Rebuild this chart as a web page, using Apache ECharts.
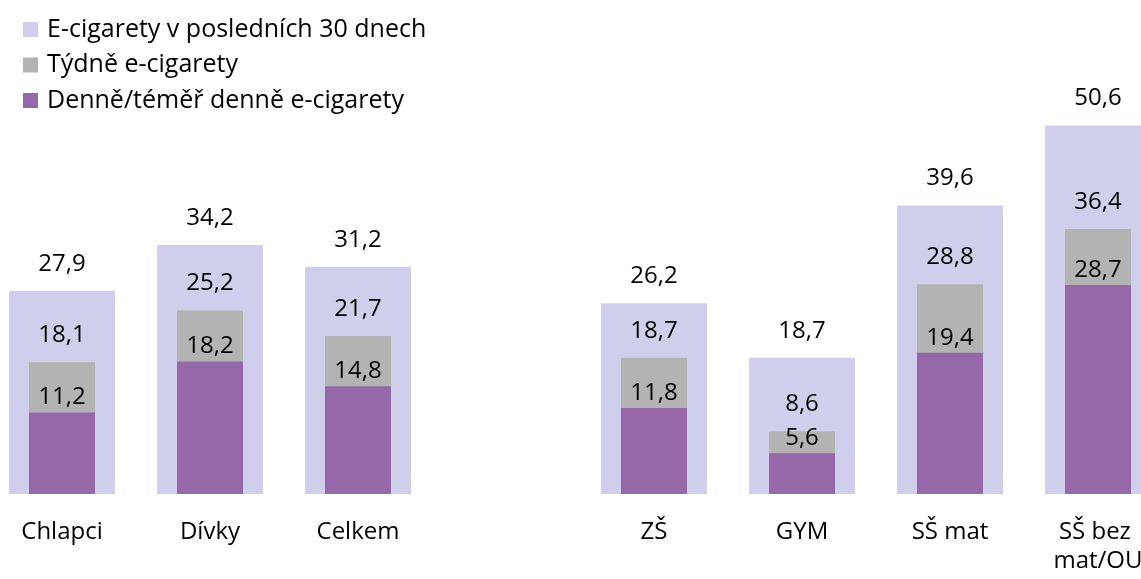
<!DOCTYPE html>
<html>
<head>
<meta charset="utf-8">
<script src="https://cdn.jsdelivr.net/npm/echarts@6/dist/echarts.min.js"></script>
<style>
  html, body { margin: 0; padding: 0; background: #fff; }
  #chart { width: 1141px; height: 579px; }
</style>
</head>
<body>
<div id="chart"></div>
<script>
// kategorie (prázdná mezera mezi skupinami)
const categories = ['Chlapci', 'Dívky', 'Celkem', '', 'ZŠ', 'GYM', 'SŠ mat', 'SŠ bez mat/OU'];
const last30 = [27.9, 34.2, 31.2, null, 26.2, 18.7, 39.6, 50.6];
const weekly = [18.1, 25.2, 21.7, null, 18.7, 8.6, 28.8, 36.4];
const daily = [11.2, 18.2, 14.8, null, 11.8, 5.6, 19.4, 28.7];

const FONT = '"Open Sans", "Noto Sans", sans-serif';
const fmt = p => p.value == null ? '' : p.value.toFixed(1).replace('.', ',');

const chart = echarts.init(document.getElementById('chart'));

chart.setOption({
    animation: false,
    textStyle: { fontFamily: FONT },
    legend: {
        orient: 'vertical',
        left: 18,
        top: 12,
        itemWidth: 15,
        itemHeight: 15,
        itemGap: 10.5,
        icon: 'rect',
        textStyle: { fontSize: 25, color: '#000', fontFamily: FONT, padding: [0, 0, 0, 4] },
        data: ['E-cigarety v posledních 30 dnech', 'Týdně e-cigarety', 'Denně/téměř denně e-cigarety']
    },
    grid: { left: -12, right: -31, top: 57, bottom: 85, containLabel: false, outerBoundsMode: 'none' },
    xAxis: [
        {
            type: 'category',
            data: categories,
            axisLine: { show: false },
            axisTick: { show: false },
            axisLabel: {
                fontSize: 24, color: '#000', margin: 24, lineHeight: 29,
                interval: 0, width: 110, overflow: 'break', fontFamily: FONT
            }
        },
        {
            type: 'category',
            data: categories,
            show: false
        }
    ],
    yAxis: {
        type: 'value',
        min: 0,
        max: 60,
        show: false,
        splitLine: { show: false }
    },
    series: [
        {
            name: 'E-cigarety v posledních 30 dnech',
            type: 'bar',
            xAxisIndex: 0,
            data: last30,
            barWidth: 106,
            itemStyle: { color: '#CFCFEB' },
            label: { show: true, position: 'top', distance: 15, fontSize: 24, color: '#000', formatter: fmt }
        },
        {
            name: 'Týdně e-cigarety',
            type: 'bar',
            xAxisIndex: 1,
            data: weekly,
            barWidth: 66,
            barGap: '-100%',
            itemStyle: { color: '#B3B3B3' },
            label: { show: true, position: 'top', distance: 15, fontSize: 24, color: '#000', formatter: fmt }
        },
        {
            name: 'Denně/téměř denně e-cigarety',
            type: 'bar',
            xAxisIndex: 1,
            data: daily,
            barWidth: 66,
            barGap: '-100%',
            itemStyle: { color: '#9568A8' },
            label: { show: true, position: 'top', distance: 3, fontSize: 24, color: '#000', formatter: fmt }
        }
    ]
});
</script>
</body>
</html>
